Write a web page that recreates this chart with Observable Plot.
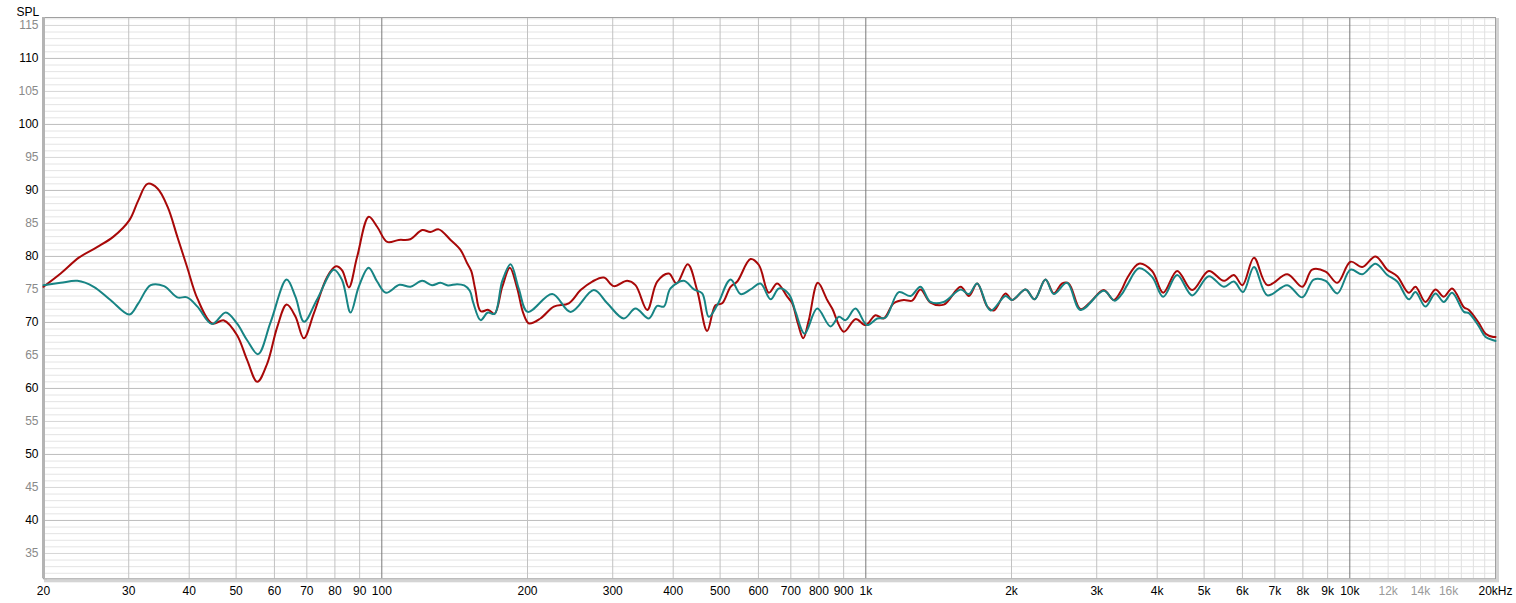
<!DOCTYPE html>
<html>
<head>
<meta charset="utf-8">
<script src="https://cdn.jsdelivr.net/npm/d3@7"></script>
<script src="https://cdn.jsdelivr.net/npm/@observablehq/plot@0.6"></script>
<style>
  html, body { margin: 0; padding: 0; background: #fff; }
  #chart svg { display: block; }
</style>
</head>
<body>
<div id="chart"></div>
<script>
// ---- data (Hz, dB SPL) ----
const redFreq = [20,21.7,23.7,25.8,27.9,30.1,31.4,32.8,34.4,36.1,37.8,39.6,41.6,44.6,47.2,50.2,52.7,55.3,58.0,60.8,63.6,66.3,69.0,72.4,77.1,80.4,82.8,85.5,88.9,94.0,97.8,102.6,108.4,114.5,121.2,126,131.1,138.7,145.4,150,153,156,160,166,171,177.4,183.9,190.4,196,201.4,212.7,226.7,243.4,257.5,272.2,287.6,301.6,321.4,334.3,353.5,370.7,391.8,406.5,428.6,448.2,470.1,489.1,505,525.5,542.5,577.9,601.3,630.5,656,688,704.6,724,742.7,762.6,796,832.3,852.2,900.6,952.2,1000,1047,1089,1142,1198,1247,1297,1360,1449,1570,1633,1699,1782,1839,1944,2006,2139,2231,2351,2446,2545,2626,2777,2912,3102,3254,3380,3467,3667,3904,4116,4398,4724,5112,5491,5760,6000,6339,6756,7427,7977,8362,8913,9425,10035,10610,11300,11950,12530,13240,13670,14330,15030,15640,16270,17210,17620,18480,19080,19780,20000];
const redSpl  = [75.4,77.4,79.85,81.4,83.0,85.5,88.5,91.0,90.3,87.5,83.0,78.4,73.6,69.85,70.3,68.1,64.3,61.0,63.8,69.3,72.7,70.9,67.6,71.4,76.9,78.5,77.9,75.3,79.9,86.0,84.5,82.2,82.5,82.6,84.0,83.7,84.1,82.5,81.0,79.0,77.8,75.0,71.7,71.9,71.3,75.4,78.3,75.2,71.4,69.85,70.6,72.4,72.9,74.9,76.2,76.8,75.5,76.3,75.65,71.9,76.2,77.4,75.9,78.8,74.9,68.7,72.6,72.9,75.4,76.2,79.6,78.7,74.5,75.9,73.9,72.9,69.85,67.6,70.35,76.0,73.4,72.1,68.6,70.5,69.6,71.1,70.6,72.9,73.4,73.3,75.0,73.0,72.7,75.4,74.0,75.9,72.4,71.8,74.4,73.4,75.0,73.5,76.5,74.4,75.9,75.9,72.0,73.1,74.9,73.4,75.0,76.7,78.9,77.8,74.5,77.8,74.9,77.8,76.3,77.2,75.65,79.8,75.65,77.3,75.4,78.0,77.7,76.0,79.2,78.4,80.0,78.0,77.0,74.5,75.4,73.1,75.0,73.9,75.15,72.3,71.9,69.9,68.3,67.8,67.8];

const tealFreq = [20,21.7,23.5,25.4,27.5,30.1,31.4,33.3,35.5,37.8,39.6,41.6,44.6,47.6,50.2,52.7,55.5,58.9,63.6,66.3,69.1,73.4,79.6,82.8,86.2,89.6,93.9,97.8,102,108.8,114.6,121.2,127,132.2,137,143.1,148,152,154.5,160,165.6,171,177.4,184.5,191.9,200.2,225,245.6,274.2,292.3,316.2,334.3,356.3,370.7,382.6,394.9,420.7,441.5,459.2,473.8,493.1,525.5,551.2,577.9,605.9,635.9,661.4,693.5,715.9,747.3,793.6,845.4,880,908,952.2,1006,1056,1099,1170,1237,1297,1360,1449,1570,1633,1699,1810,1944,2006,2139,2231,2351,2446,2605,2777,3102,3265,3380,3467,3667,3904,4116,4398,4724,5112,5491,5760,6020,6339,6756,7427,7977,8424,8913,9425,10035,10610,11300,11950,12530,13240,13670,14330,15030,15640,16270,17210,17620,18480,19080,19780,20000];
const tealSpl  = [75.65,76.0,76.3,75.4,73.4,71.2,72.9,75.65,75.5,73.8,73.8,72.4,69.75,71.5,69.85,67.3,65.2,70.0,76.5,73.9,70.1,73.4,78.0,76.4,71.5,75.4,78.3,76.2,74.5,75.7,75.4,76.3,75.65,76.0,75.6,75.8,75.6,74.8,73.0,70.35,71.5,71.3,76.3,78.8,75.1,71.6,74.3,71.6,74.9,72.9,70.6,72.1,70.6,72.5,72.4,75.15,76.3,75.0,74.4,70.85,72.6,76.5,74.3,75.0,75.9,73.5,75.15,74.3,71.6,68.3,72.1,69.4,70.85,70.35,72.1,69.6,70.6,70.75,74.6,74.0,75.4,73.1,73.1,75.0,74.3,75.9,71.8,74.0,73.4,75.0,73.5,76.5,74.3,76.0,71.9,74.8,73.3,74.3,75.65,78.2,76.9,73.9,77.2,74.1,77.0,75.4,76.2,74.6,78.4,74.1,75.65,73.8,76.5,76.3,74.4,78.0,77.3,78.9,77.2,76.2,73.5,74.6,72.4,74.4,73.1,74.5,71.6,71.4,69.4,67.8,67.3,67.2];

// ---- ticks ----
const xTickValues = [20,30,40,50,60,70,80,90,100,200,300,400,500,600,700,800,900,1000,2000,3000,4000,5000,6000,7000,8000,9000,10000,12000,14000,16000,20000];
const xTickTexts  = ["20","30","40","50","60","70","80","90","100","200","300","400","500","600","700","800","900","1k","2k","3k","4k","5k","6k","7k","8k","9k","10k","12k","14k","16k","20kHz"];
const xTickGray   = [12000,14000,16000];
const xGridDecade = [100,1000,10000];
const xGridMain   = [30,40,50,60,70,80,90,200,300,400,500,600,700,800,900,2000,3000,4000,5000,6000,7000,8000,9000];
const xGridFine   = [11000,12000,13000,14000,15000,16000,17000,18000,19000];
const yTickValues = [35,40,45,50,55,60,65,70,75,80,85,90,95,100,105,110,115];
const yGridMinor  = d3.range(32, 117, 1);

const toRows = (fs, vs) => fs.map((f, i) => ({f, v: vs[i]}));
const red = toRows(redFreq, redSpl);
const teal = toRows(tealFreq, tealSpl);
const xLabels = xTickValues.map((f, i) => ({f, t: xTickTexts[i]}));

const yMin = 31.16, yMax = 116.2;

const chart = Plot.plot({
  width: 1516,
  height: 603,
  marginLeft: 43,
  marginRight: 21,
  marginTop: 17,
  marginBottom: 24.7,
  style: {fontFamily: "'Liberation Sans', Arial, sans-serif", fontSize: "12px", background: "#fff"},
  x: {type: "log", domain: [20, 20000], axis: null},
  y: {domain: [yMin, yMax], axis: null},
  marks: [
    // shadow + frame
    Plot.frame({stroke: "#d4d4d4", strokeWidth: 3, dx: 2, dy: 2}),
    Plot.frame({fill: "#fff", stroke: "none"}),
    Plot.ruleY(yGridMinor.filter(d => d % 5 !== 0), {y: d => d, stroke: "#e4e4e4", strokeWidth: 1}),
    Plot.ruleY(yTickValues.filter(d => d % 10 !== 0), {y: d => d, stroke: "#d6d6d6", strokeWidth: 1}),
    Plot.ruleY(yTickValues.filter(d => d % 10 === 0), {y: d => d, stroke: "#bdbdbd", strokeWidth: 1}),
    Plot.ruleX(xGridFine, {x: d => d, stroke: "#e0e0e0", strokeWidth: 1}),
    Plot.ruleX(xGridMain, {x: d => d, stroke: "#c2c2c2", strokeWidth: 1}),
    Plot.ruleX(xGridDecade, {x: d => d, stroke: "#7a7a7a", strokeWidth: 1}),
    Plot.frame({stroke: "#a0a0a0", strokeWidth: 1}),
    Plot.ruleX([20], {x: d => d, stroke: "#b4b4b4", strokeWidth: 3}),
    // curves
    Plot.line(red, {x: "f", y: "v", stroke: "#a80808", strokeWidth: 2, curve: "catmull-rom"}),
    Plot.line(teal, {x: "f", y: "v", stroke: "#178484", strokeWidth: 2, curve: "catmull-rom"}),
    // y labels
    Plot.text(yTickValues, {
      x: 20, y: d => d, dx: -5, textAnchor: "end", text: d => String(d),
      fill: d => d % 10 === 0 ? "#000" : "#8a8a8a"
    }),
    // x labels
    Plot.text(xLabels, {
      x: "f", y: yMin, dy: 12, text: "t", textAnchor: "middle",
      fill: d => xTickGray.includes(d.f) ? "#9a9a9a" : "#000"
    }),
    Plot.text(["SPL"], {frameAnchor: "top-left", dx: -27, dy: -10, textAnchor: "start", fill: "#000", text: d => d})
  ]
});
document.getElementById("chart").appendChild(chart);
</script>
</body>
</html>
